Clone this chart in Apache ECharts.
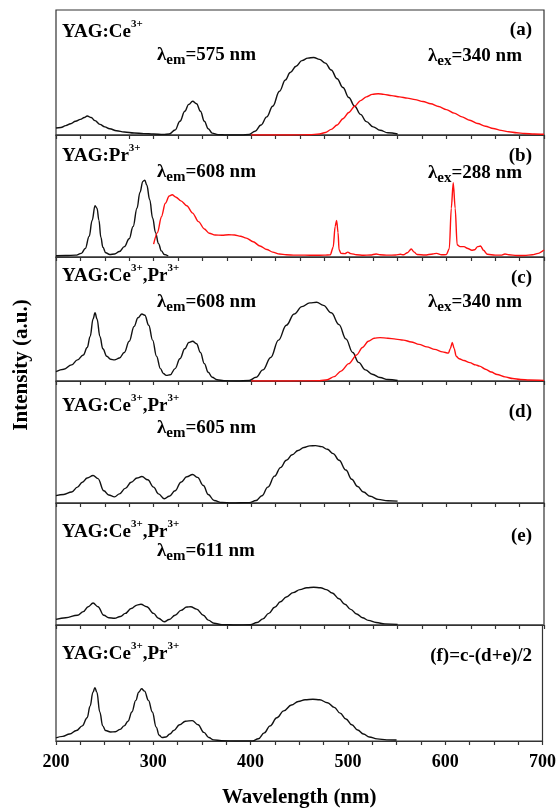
<!DOCTYPE html>
<html>
<head>
<meta charset="utf-8">
<script src="https://cdn.jsdelivr.net/npm/echarts@6/dist/echarts.min.js"></script>
<style>
  html, body { margin: 0; padding: 0; background: #fff; }
  #chart { width: 559px; height: 809px; }
</style>
</head>
<body>
<div id="chart"></div>
<script>
// wavelength (nm), relative intensity (fraction of panel height)
const aExc = [[200,0.056],[205,0.06],[210,0.075],[215,0.09],[220,0.11],[225,0.125],[229,0.14],[232,0.152],[236,0.14],[240,0.115],[245,0.085],[250,0.065],[255,0.05],[262,0.034],[270,0.024],[280,0.016],[290,0.011],[300,0.008],[310,0.005],[316,0.008],[322,0.04],[327,0.11],[332,0.19],[336,0.245],[340,0.27],[344,0.25],[348,0.19],[352,0.11],[356,0.05],[360,0.015],[366,0.003],[375,0],[390,0],[398,0.005],[404,0.03],[410,0.08],[416,0.145],[422,0.23],[429,0.35],[435,0.44],[440,0.5],[446,0.55],[452,0.595],[458,0.615],[464,0.62],[470,0.605],[476,0.575],[482,0.52],[488,0.45],[494,0.38],[500,0.3],[506,0.23],[512,0.165],[518,0.107],[525,0.065],[532,0.038],[540,0.018],[550,0.008]];
const aEm = [[400,0],[420,0],[440,0],[460,0.002],[470,0.008],[476,0.02],[482,0.045],[488,0.08],[494,0.13],[500,0.18],[506,0.23],[512,0.275],[518,0.305],[524,0.325],[530,0.33],[536,0.325],[544,0.315],[552,0.305],[560,0.295],[568,0.283],[576,0.268],[584,0.25],[592,0.228],[600,0.203],[608,0.175],[616,0.145],[624,0.118],[632,0.092],[640,0.07],[648,0.052],[656,0.037],[664,0.026],[672,0.018],[680,0.012],[690,0.008],[700,0.006]];

const bExc = [[200,0.01],[210,0.012],[220,0.015],[226,0.03],[230,0.07],[234,0.17],[237,0.3],[240,0.42],[242,0.4],[244,0.3],[246,0.16],[248,0.08],[251,0.035],[255,0.02],[260,0.025],[265,0.045],[270,0.085],[275,0.15],[279,0.25],[283,0.4],[286,0.53],[289,0.62],[291,0.63],[293,0.59],[296,0.47],[299,0.32],[302,0.2],[305,0.11],[308,0.05],[311,0.02],[315,0.008]];
const bEm = [[300,0.105],[304,0.2],[308,0.33],[312,0.44],[316,0.5],[319,0.51],[323,0.49],[328,0.46],[334,0.42],[340,0.36],[346,0.29],[352,0.23],[357,0.195],[363,0.18],[370,0.178],[377,0.182],[383,0.18],[389,0.17],[395,0.155],[402,0.125],[409,0.09],[416,0.062],[422,0.04],[429,0.025],[436,0.018],[445,0.015],[455,0.015],[465,0.014],[475,0.015],[481,0.018],[484,0.08],[486,0.25],[487.5,0.3],[489,0.2],[490,0.06],[492,0.03],[496,0.028],[499,0.04],[502,0.028],[508,0.018],[515,0.014],[522,0.016],[528,0.025],[532,0.018],[540,0.015],[548,0.016],[553,0.022],[556,0.018],[560,0.035],[564,0.065],[567,0.04],[570,0.02],[578,0.016],[586,0.025],[590,0.03],[595,0.018],[600,0.02],[603,0.07],[605,0.4],[607,0.61],[609,0.4],[611,0.1],[614,0.085],[618,0.085],[622,0.07],[626,0.055],[629,0.06],[632,0.085],[635,0.09],[638,0.055],[642,0.022],[650,0.015],[656,0.015],[660,0.025],[664,0.018],[672,0.012],[680,0.012],[688,0.018],[694,0.03],[700,0.057]];

const cExc = [[200,0.075],[208,0.095],[216,0.13],[222,0.17],[228,0.21],[232,0.27],[235,0.36],[238,0.5],[240,0.55],[242,0.5],[245,0.36],[248,0.26],[252,0.2],[256,0.175],[260,0.17],[265,0.185],[270,0.23],[275,0.32],[280,0.44],[284,0.51],[288,0.54],[291,0.53],[295,0.45],[299,0.33],[303,0.2],[307,0.1],[310,0.06],[313,0.045],[317,0.05],[322,0.1],[327,0.18],[332,0.26],[336,0.31],[340,0.32],[344,0.3],[348,0.23],[352,0.14],[356,0.07],[360,0.03],[365,0.01],[372,0.002],[385,0],[398,0.005],[405,0.03],[412,0.09],[420,0.19],[428,0.33],[436,0.45],[444,0.54],[452,0.6],[460,0.63],[467,0.635],[474,0.61],[482,0.55],[490,0.455],[497,0.34],[504,0.23],[510,0.15],[517,0.09],[524,0.055],[532,0.028],[540,0.012],[550,0.004]];
const cEm = [[400,0],[440,0],[470,0.002],[478,0.01],[485,0.035],[492,0.08],[500,0.14],[508,0.21],[514,0.27],[520,0.32],[526,0.345],[532,0.35],[540,0.345],[548,0.338],[556,0.33],[564,0.315],[572,0.295],[580,0.275],[588,0.255],[596,0.235],[602,0.225],[604,0.26],[606,0.31],[608,0.26],[610,0.2],[613,0.18],[618,0.165],[624,0.148],[630,0.13],[634,0.12],[640,0.095],[646,0.072],[652,0.052],[660,0.033],[668,0.02],[676,0.012],[685,0.008],[700,0.005]];

const dExc = [[200,0.06],[208,0.07],[216,0.09],[222,0.13],[227,0.17],[232,0.205],[238,0.225],[243,0.2],[249,0.1],[254,0.065],[260,0.05],[265,0.075],[271,0.12],[277,0.17],[283,0.205],[288,0.217],[294,0.19],[300,0.13],[305,0.075],[311,0.035],[316,0.055],[322,0.1],[328,0.17],[334,0.215],[340,0.234],[345,0.21],[351,0.144],[356,0.07],[362,0.02],[370,0.004],[380,0],[398,0.003],[405,0.02],[411,0.06],[417,0.13],[424,0.22],[430,0.29],[436,0.35],[442,0.395],[448,0.43],[454,0.455],[460,0.468],[466,0.47],[472,0.462],[478,0.44],[484,0.405],[490,0.35],[497,0.27],[503,0.195],[509,0.135],[515,0.09],[522,0.055],[530,0.03],[540,0.018],[550,0.015]];

const eExc = [[200,0.046],[210,0.06],[222,0.08],[228,0.11],[233,0.15],[238,0.18],[243,0.15],[249,0.08],[254,0.06],[260,0.055],[266,0.07],[271,0.095],[277,0.135],[283,0.163],[287,0.17],[293,0.15],[300,0.095],[305,0.055],[311,0.027],[316,0.045],[322,0.08],[328,0.12],[334,0.147],[338,0.15],[344,0.13],[351,0.08],[356,0.04],[362,0.014],[370,0.003],[385,0],[399,0.002],[406,0.02],[412,0.05],[418,0.095],[424,0.145],[430,0.19],[436,0.23],[443,0.265],[450,0.29],[457,0.305],[464,0.31],[471,0.305],[477,0.29],[483,0.262],[490,0.215],[496,0.17],[502,0.128],[508,0.09],[514,0.06],[520,0.038],[528,0.02],[537,0.009],[550,0.005]];

const fExc = [[200,0.027],[207,0.04],[214,0.06],[221,0.09],[227,0.13],[232,0.2],[235,0.3],[238,0.42],[240,0.46],[242,0.42],[245,0.25],[248,0.13],[251,0.09],[256,0.078],[261,0.08],[266,0.1],[270,0.13],[274,0.17],[278,0.25],[282,0.35],[285,0.42],[288,0.45],[291,0.43],[295,0.35],[299,0.25],[303,0.12],[306,0.05],[309,0.03],[313,0.035],[317,0.06],[321,0.09],[327,0.14],[333,0.17],[340,0.176],[346,0.14],[352,0.074],[357,0.03],[362,0.01],[370,0.002],[385,0],[402,0],[408,0.02],[414,0.07],[420,0.13],[427,0.2],[434,0.26],[442,0.31],[449,0.34],[456,0.355],[464,0.36],[471,0.355],[479,0.33],[486,0.29],[492,0.24],[498,0.19],[504,0.14],[510,0.095],[516,0.06],[522,0.035],[530,0.018],[540,0.01],[550,0.008]];

// panels: black (excitation) and red (emission) curves
const blackSeries = [aExc, bExc, cExc, dExc, eExc, fExc];
const redSeries = [aEm, bEm, cEm, null, null, null];
const xTickLabels = [200, 300, 400, 500, 600, 700];

const panelTops = [10, 135, 257, 381, 503, 625];
const plotBottom = 747;

const FONT = '"Liberation Serif", "DejaVu Serif", serif';
const rich = {
  m: { fontSize: 19, fontWeight: 'bold', fontFamily: FONT, color: '#000', lineHeight: 26, verticalAlign: 'middle' },
  sup: { fontSize: 11, fontWeight: 'bold', fontFamily: FONT, color: '#000', lineHeight: 26, verticalAlign: 'top', padding: [0, 0, 11, 0] },
  sub: { fontSize: 15, fontWeight: 'bold', fontFamily: FONT, color: '#000', lineHeight: 26, verticalAlign: 'bottom', padding: [9, 0, 0, 0] }
};

function label(x, y, text, align) {
  return {
    type: 'text', x: x, y: y, z: 100,
    style: { text: text, rich: rich, align: align || 'left', verticalAlign: 'middle' }
  };
}

const grids = [], xAxes = [], yAxes = [], series = [];
panelTops.forEach((top, i) => {
  const bottom = i < 5 ? panelTops[i + 1] : plotBottom;
  grids.push({ left: 56, right: 15, top: top, height: bottom - top, show: true, borderColor: '#333', borderWidth: 1.2 });
  const last = i === 5;
  xAxes.push({
    gridIndex: i, type: 'value', min: 200, max: 700, interval: 25,
    axisLine: { lineStyle: { color: '#333', width: 1.2 } },
    axisTick: { show: true, inside: false, length: 4, lineStyle: { color: '#333', width: 1.2 } },
    axisLabel: {
      show: last, margin: 12, color: '#000', fontFamily: FONT, fontWeight: 'bold', fontSize: 18,
      formatter: v => (xTickLabels.indexOf(v) >= 0 ? String(v) : '')
    },
    splitLine: { show: false },
    name: last ? 'Wavelength (nm)' : '',
    nameLocation: 'middle', nameGap: 46,
    nameTextStyle: { color: '#000', fontFamily: FONT, fontWeight: 'bold', fontSize: 21 }
  });
  yAxes.push({ gridIndex: i, type: 'value', min: 0, max: 1, show: false });
  series.push({
    type: 'line', xAxisIndex: i, yAxisIndex: i, data: blackSeries[i],
    symbol: 'none', smooth: 0.4, smoothMonotone: 'x',
    lineStyle: { color: '#111', width: 1.4 }
  });
  if (redSeries[i]) {
    series.push({
      type: 'line', xAxisIndex: i, yAxisIndex: i, data: redSeries[i],
      symbol: 'none', smooth: 0.3, smoothMonotone: 'x',
      lineStyle: { color: '#ff1010', width: 1.4 }
    });
  }
});

const chart = echarts.init(document.getElementById('chart'));
chart.setOption({
  animation: false,
  backgroundColor: '#fff',
  grid: grids,
  xAxis: xAxes,
  yAxis: yAxes,
  series: series,
  graphic: [
    label(62, 32, '{m|YAG:Ce}{sup|3+}'),
    label(157, 55, '{m|λ}{sub|em}{m|=575 nm}'),
    label(532, 30, '{m|(a)}', 'right'),
    label(428, 56, '{m|λ}{sub|ex}{m|=340 nm}'),

    label(62, 156, '{m|YAG:Pr}{sup|3+}'),
    label(157, 172, '{m|λ}{sub|em}{m|=608 nm}'),
    label(532, 156, '{m|(b)}', 'right'),
    label(428, 173, '{m|λ}{sub|ex}{m|=288 nm}'),

    label(62, 276, '{m|YAG:Ce}{sup|3+}{m|,Pr}{sup|3+}'),
    label(157, 302, '{m|λ}{sub|em}{m|=608 nm}'),
    label(532, 278, '{m|(c)}', 'right'),
    label(428, 302, '{m|λ}{sub|ex}{m|=340 nm}'),

    label(62, 406, '{m|YAG:Ce}{sup|3+}{m|,Pr}{sup|3+}'),
    label(157, 428, '{m|λ}{sub|em}{m|=605 nm}'),
    label(532, 412, '{m|(d)}', 'right'),

    label(62, 532, '{m|YAG:Ce}{sup|3+}{m|,Pr}{sup|3+}'),
    label(157, 551, '{m|λ}{sub|em}{m|=611 nm}'),
    label(532, 536, '{m|(e)}', 'right'),

    label(62, 654, '{m|YAG:Ce}{sup|3+}{m|,Pr}{sup|3+}'),
    label(532, 656, '{m|(f)=c-(d+e)/2}', 'right'),

    {
      type: 'text', x: 22, y: 365, rotation: Math.PI / 2, z: 100,
      style: {
        text: 'Intensity (a.u.)', fill: '#000', align: 'center', verticalAlign: 'middle',
        font: 'bold 21px "Liberation Serif", "DejaVu Serif", serif'
      }
    }
  ]
});
</script>
</body>
</html>
